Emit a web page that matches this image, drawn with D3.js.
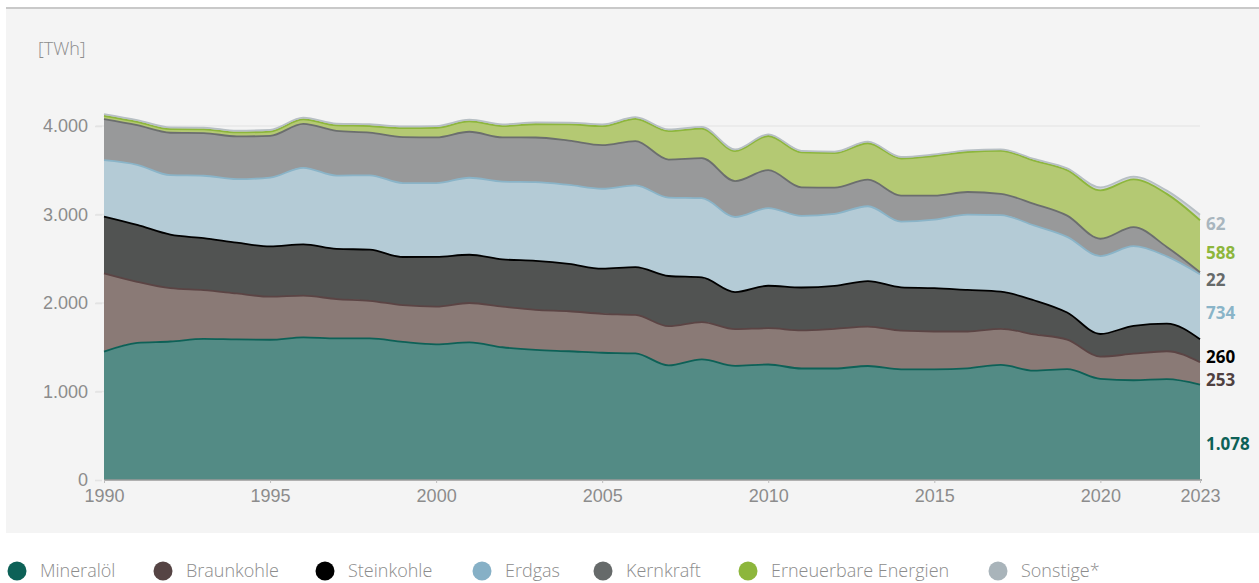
<!DOCTYPE html>
<html><head><meta charset="utf-8">
<script src="https://cdn.jsdelivr.net/npm/d3@7"></script>
<style>
body{margin:0;background:#fff;}
svg{display:block;font-family:"Open Sans",sans-serif;}
</style>
</head><body>
<svg id="chart" width="1259" height="583"></svg>
<script>
// ---------- data (TWh) ----------
const years = [1990,1991,1992,1993,1994,1995,1996,1997,1998,1999,2000,2001,2002,2003,2004,2005,2006,2007,2008,2009,2010,2011,2012,2013,2014,2015,2016,2017,2018,2019,2020,2021,2022,2023];
const mineraloel  = [1450,1550,1565,1595,1588,1585,1612,1600,1600,1560,1533,1555,1500,1470,1455,1438,1430,1295,1364,1290,1305,1260,1260,1288,1250,1250,1262,1300,1236,1252,1143,1127,1140,1078];
const braunkohle  = [886,690,602,550,520,486,471,444,425,415,426,445,458,452,452,440,435,443,420,414,410,430,448,445,437,428,416,408,410,335,250,300,315,253];
const steinkohle  = [640,642,605,588,575,568,580,568,578,545,563,545,535,555,535,510,540,567,505,420,480,485,485,515,490,490,470,420,385,305,257,315,312,260];
const erdgas      = [638,680,672,705,716,778,864,828,840,835,832,870,878,888,892,903,925,886,895,848,877,810,815,845,742,773,850,865,845,855,880,900,760,734];
const kernkraft   = [463,447,480,482,483,472,497,505,482,520,517,520,500,505,500,492,500,430,452,405,430,322,295,300,294,272,256,240,244,240,196,215,106,22];
const erneuerbare = [38,38,40,42,45,48,50,62,75,100,108,118,128,150,185,215,250,320,335,340,385,395,390,412,420,448,452,485,490,515,546,540,600,588];
const sonstige    = [20,20,20,20,20,20,20,20,20,20,20,20,20,20,20,20,20,20,18,18,18,18,18,18,18,18,18,18,18,20,35,30,37,62];

const seriesNames = ["Mineralöl","Braunkohle","Steinkohle","Erdgas","Kernkraft","Erneuerbare Energien","Sonstige*"];
const seriesData  = [mineraloel,braunkohle,steinkohle,erdgas,kernkraft,erneuerbare,sonstige];
const xTickValues = [1990,1995,2000,2005,2010,2015,2020,2023];
const yTickValues = [0,1000,2000,3000,4000];
const unitLabel = "[TWh]";

// ---------- styles ----------
const lineColors  = ["#0d6157","#5b4444","#000000","#8ab4c8","#6b6e6e","#8db63c","#b7bfc4"];
const fillColors  = ["#538b85","#8a7a76","#515352","#b4cbd6","#98999a","#b4c973","#cfd3d6"];
const dotColors   = ["#0d6157","#554444","#000000","#86b0c6","#666a6a","#8db63c","#a9b4ba"];
const labelColors = ["#0d6157","#4f4040","#000000","#8ab4c8","#666a6a","#8db63c","#a9b6be"];
const textGrey = "#8c8c8c";

const svg = d3.select("#chart");
const W = 1259, H = 583;

// panel
svg.append("rect").attr("x",6).attr("y",8).attr("width",W-6).attr("height",525).attr("fill","#f4f4f4");
svg.append("line").attr("x1",6).attr("x2",W).attr("y1",8).attr("y2",8).attr("stroke","#c9c9c9").attr("stroke-width",2);

const x = d3.scaleLinear().domain([1990,2023]).range([104,1200]);
const y = d3.scaleLinear().domain([0,4000]).range([480,126]);

const de = d3.formatLocale({decimal:",",thousands:".",grouping:[3],currency:["","€"]});
const fmt = de.format(",d");

// grid
svg.append("g").selectAll("line").data(yTickValues.slice(1)).join("line")
  .attr("x1",96).attr("x2",1200).attr("y1",d=>y(d)).attr("y2",d=>y(d))
  .attr("stroke","#e8e8e8").attr("stroke-width",1.5);

// stack
const table = years.map((yr,i)=>{const o={year:yr}; seriesNames.forEach((n,k)=>o[n]=seriesData[k][i]); return o;});
const stack = d3.stack().keys(seriesNames)(table);

const area = d3.area().x(d=>x(d.data.year)).y0(d=>y(d[0])).y1(d=>y(d[1])).curve(d3.curveMonotoneX);
const line = d3.line().x(d=>x(d.data.year)).y(d=>y(d[1])).curve(d3.curveMonotoneX);

svg.append("g").selectAll("path").data(stack).join("path")
  .attr("d",area).attr("fill",(d,i)=>fillColors[i]);
svg.append("g").selectAll("path").data(stack).join("path")
  .attr("d",line).attr("fill","none").attr("stroke",(d,i)=>lineColors[i]).attr("stroke-width",1.8);

// y axis
const yAxis = svg.append("g").attr("transform","translate(102,0)")
  .call(d3.axisLeft(y).tickValues(yTickValues).tickFormat(fmt).tickSize(7).tickPadding(7));
yAxis.select(".domain").remove();
yAxis.selectAll(".tick line").attr("stroke","#e3e3e3").attr("stroke-width",1.5);
yAxis.selectAll("text").attr("fill",textGrey).style("font-size","18px").style("font-weight","300");

// x axis
const xAxis = svg.append("g").attr("transform","translate(0,480)")
  .call(d3.axisBottom(x).tickValues(xTickValues).tickFormat(d3.format("d")).tickSize(3).tickPadding(6));
xAxis.select(".domain").attr("stroke","#9a9a9a").attr("stroke-width",1.5).attr("d","M104,0H1202");
xAxis.selectAll(".tick line").attr("stroke","#bdbdbd");
xAxis.selectAll("text").attr("fill",textGrey).style("font-size","18px").style("font-weight","300");

// unit
svg.append("text").attr("x",38).attr("y",55).attr("fill",textGrey).style("font-size","18px").style("font-weight","300").text(unitLabel);

// end labels
const last = stack.map(s=>s[s.length-1]);
svg.append("g").selectAll("text").data(last).join("text")
  .attr("x",1206)
  .attr("y",(d,i)=>y((d[0]+d[1])/2) + (i===0?13:8))
  .attr("dominant-baseline","middle")
  .attr("fill",(d,i)=>labelColors[i])
  .style("font-size","17px").style("font-weight","700")
  .text(d=>fmt(d[1]-d[0]));

// legend
const legendX = [17,163,325,482,603,748,998];
const lg = svg.append("g").selectAll("g").data(seriesNames).join("g")
  .attr("transform",(d,i)=>`translate(${legendX[i]},571)`);
lg.append("circle").attr("r",9.5).attr("fill",(d,i)=>dotColors[i]);
lg.append("text").attr("x",23).attr("dy","0.35em").attr("fill",textGrey).style("font-size","18px").style("font-weight","300").text(d=>d);
</script>
</body></html>
